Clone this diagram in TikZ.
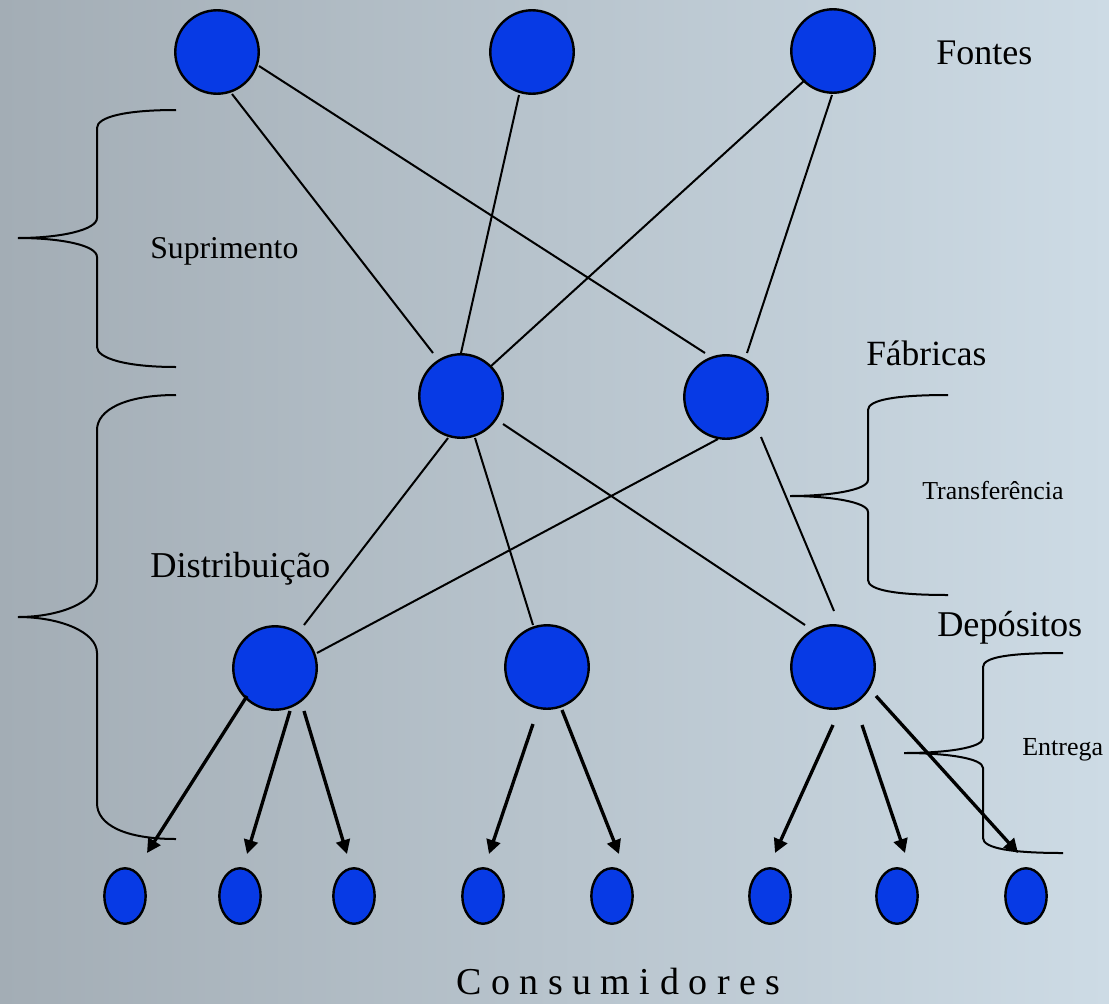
\documentclass[tikz,border=0pt]{standalone}
\usepackage{fontspec}
\setmainfont{Liberation Serif}
\usetikzlibrary{arrows.meta,shapes.geometric}
\definecolor{nodeblue}{RGB}{7,58,229}
\definecolor{bgleft}{RGB}{163,173,181}
\definecolor{bgright}{RGB}{205,219,229}
\tikzset{
  bignode/.style={circle,draw=black,line width=1.8pt,fill=nodeblue,inner sep=0pt,minimum size=62.6pt},
  consnode/.style={ellipse,draw=black,line width=1.8pt,fill=nodeblue,inner sep=0pt,minimum width=31pt,minimum height=41.6pt},
  link/.style={line width=1.5pt,black},
  flow/.style={line width=2.5pt,black,-{Triangle[length=10.5pt,width=10.5pt]}},
  bracepath/.style={line width=1.5pt,black},
  lbl/.style={anchor=base west,inner sep=0pt,text=black}
}
\begin{document}
\begin{tikzpicture}[x=0.75pt,y=-0.75pt]
\useasboundingbox (0,0) rectangle (1109,1003);
\shade[left color=bgleft,right color=bgright] (0,0) rectangle (1109,1003);

% Fontes
\node[bignode] (F1) at (217,52) {};
\node[bignode] (F2) at (532,52) {};
\node[bignode] (F3) at (833,51) {};
% Fabricas
\node[bignode] (B1) at (461,396) {};
\node[bignode] (B2) at (726,397) {};
% Depositos
\node[bignode] (D1) at (275,668) {};
\node[bignode] (D2) at (547,667) {};
\node[bignode] (D3) at (833,667) {};
% Consumidores
\node[consnode] (C1) at (125,896) {};
\node[consnode] (C2) at (240,896) {};
\node[consnode] (C3) at (354,896) {};
\node[consnode] (C4) at (483,896) {};
\node[consnode] (C5) at (612,896) {};
\node[consnode] (C6) at (770,896) {};
\node[consnode] (C7) at (897,896) {};
\node[consnode] (C8) at (1026,896) {};

% Fontes -> Fabricas
\draw[link] ([shift={(15,42)}]F1.center) -- ([shift={(-28,-43)}]B1.center);
\draw[link] ([shift={(42,14)}]F1.center) -- ([shift={(-21,-44)}]B2.center);
\draw[link] ([shift={(-13,43)}]F2.center) -- ([shift={(0,-43)}]B1.center);
\draw[link] ([shift={(-28,29)}]F3.center) -- ([shift={(29,-29)}]B1.center);
\draw[link] ([shift={(-1,44)}]F3.center) -- ([shift={(21,-44)}]B2.center);

% Fabricas -> Depositos
\draw[link] ([shift={(-13,42)}]B1.center) -- ([shift={(29,-43)}]D1.center);
\draw[link] ([shift={(14,42)}]B1.center) -- ([shift={(-14,-42)}]D2.center);
\draw[link] ([shift={(42,28)}]B1.center) -- ([shift={(-28,-42)}]D3.center);
\draw[link] ([shift={(-8,42)}]B2.center) -- ([shift={(42,-15)}]D1.center);
\draw[link] ([shift={(35,40)}]B2.center) -- ([shift={(1,-56)}]D3.center);

% Depositos -> Consumidores
\draw[flow] ([shift={(-28,28)}]D1.center) -- ([shift={(22,-43)}]C1.center);
\draw[flow] ([shift={(15,43)}]D1.center) -- ([shift={(7,-42)}]C2.center);
\draw[flow] ([shift={(29,43)}]D1.center) -- ([shift={(-7,-42)}]C3.center);
\draw[flow] ([shift={(-14,57)}]D2.center) -- ([shift={(6,-42)}]C4.center);
\draw[flow] ([shift={(15,43)}]D2.center) -- ([shift={(7,-42)}]C5.center);
\draw[flow] ([shift={(0,58)}]D3.center) -- ([shift={(5,-43)}]C6.center);
\draw[flow] ([shift={(29,58)}]D3.center) -- ([shift={(8,-43)}]C7.center);
\draw[flow] ([shift={(43,29)}]D3.center) -- ([shift={(-8,-43)}]C8.center);

% Braces
\draw[bracepath] (176,110) .. controls (125,110) and (97,117) .. (97,128) -- (97,218)
  .. controls (97,230) and (60,238) .. (18,238)
  .. controls (60,238) and (97,245) .. (97,257) -- (97,347)
  .. controls (97,358) and (125,367) .. (176,367);
\draw[bracepath] (176,395) .. controls (125,395) and (97,410) .. (97,430) -- (97,580)
  .. controls (97,602) and (60,617) .. (18,617)
  .. controls (60,617) and (97,632) .. (97,653) -- (97,803)
  .. controls (97,825) and (125,839) .. (176,839);
\draw[bracepath] (948,395) .. controls (895,395) and (868,400) .. (868,410) -- (868,480)
  .. controls (868,490) and (830,496) .. (790,496)
  .. controls (830,496) and (868,502) .. (868,512) -- (868,580)
  .. controls (868,590) and (895,595) .. (948,595);
\draw[bracepath] (1063,653) .. controls (1010,653) and (983,657) .. (983,667) -- (983,738)
  .. controls (983,748) and (945,753) .. (904,753)
  .. controls (945,753) and (983,758) .. (983,768) -- (983,838)
  .. controls (983,848) and (1010,853) .. (1063,853);

% Labels
\node[lbl,font=\fontsize{27}{30}\selectfont] (tFontes) at (936,64) {Fontes};
\node[lbl,font=\fontsize{23.8}{26}\selectfont] (tSup) at (150,258) {Suprimento};
\node[lbl,font=\fontsize{26.6}{30}\selectfont] (tFab) at (866,365) {Fábricas};
\node[lbl,font=\fontsize{19.4}{22}\selectfont] (tTra) at (922,499) {Transferência};
\node[lbl,font=\fontsize{27.3}{30}\selectfont] (tDis) at (150,577) {Distribuição};
\node[lbl,font=\fontsize{27.2}{30}\selectfont] (tDep) at (937,636) {Depósitos};
\node[lbl,font=\fontsize{19.5}{22}\selectfont] (tEnt) at (1022,755) {Entrega};
\node[lbl,font=\fontsize{28.5}{32}\selectfont] (tCons) at (456,994) {C o n s u m i d o r e s};
\end{tikzpicture}
\end{document}
